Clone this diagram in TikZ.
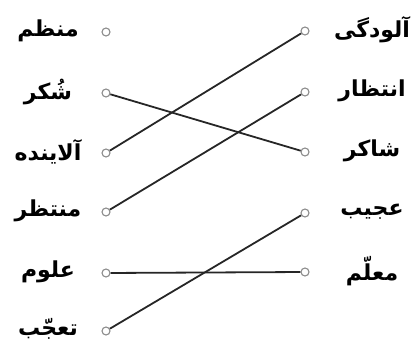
\documentclass[tikz,border=0pt]{standalone}
\usepackage{fontspec}
\newfontfamily\arabicfont[Script=Arabic]{DejaVu Sans}
\TeXXeTstate=1
\tikzset{
  dotc/.style={circle, draw=black!45, fill=white, line width=1.1pt, inner sep=0pt, minimum size=8pt},
  word/.style={font=\arabicfont\bfseries\fontsize{22}{26}\selectfont, inner sep=0pt, anchor=center},
  link/.style={line width=1.8pt, draw=black!85}
}
\begin{document}
\begin{tikzpicture}[x=1pt,y=-1pt]
\useasboundingbox (0,0) rectangle (417,347);
% left circles
\node[dotc] (l1) at (106,32) {};
\node[dotc] (l2) at (106,93) {};
\node[dotc] (l3) at (106,153) {};
\node[dotc] (l4) at (106,212) {};
\node[dotc] (l5) at (106,273) {};
\node[dotc] (l6) at (106,331) {};
% right circles
\node[dotc] (r1) at (305,31) {};
\node[dotc] (r2) at (305,92) {};
\node[dotc] (r3) at (305,152) {};
\node[dotc] (r4) at (305,213) {};
\node[dotc] (r5) at (305,272) {};
% left words
\node[word] (w1) at (48,31) {\beginR منظم\endR};
\node[word] (w2) at (48,92) {\beginR شُکر\endR};
\node[word] (w3) at (48,152) {\beginR آلاینده\endR};
\node[word] (w4) at (48,211) {\beginR منتظر\endR};
\node[word] (w5) at (48,272) {\beginR علوم\endR};
\node[word] (w6) at (48,329) {\beginR تعجّب\endR};
% right words
\node[word] (v1) at (372,30) {\beginR آلودگی\endR};
\node[word] (v2) at (372,91) {\beginR انتظار\endR};
\node[word] (v3) at (372,151) {\beginR شاکر\endR};
\node[word] (v4) at (372,212) {\beginR عجیب\endR};
\node[word] (v5) at (372,271) {\beginR معلّم\endR};
% links
\draw[link] (l3) -- (r1);
\draw[link] (l2) -- (r3);
\draw[link] (l4) -- (r2);
\draw[link] (l5) -- (r5);
\draw[link] (l6) -- (r4);
\end{tikzpicture}
\end{document}
